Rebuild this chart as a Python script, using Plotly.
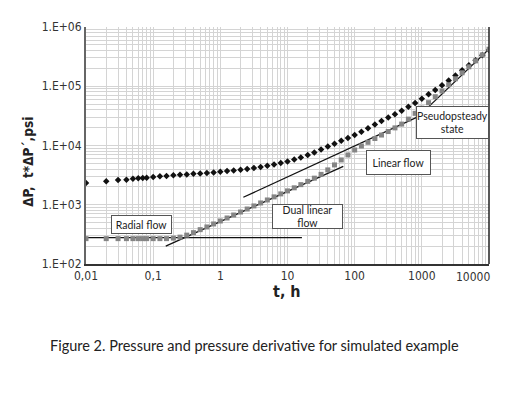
import plotly.graph_objects as go

# time, h
t = [0.01, 0.02, 0.03, 0.04, 0.05, 0.06, 0.07, 0.08,
     0.1, 0.126, 0.158, 0.2, 0.251, 0.316, 0.398, 0.501, 0.631, 0.794,
     1.0, 1.26, 1.58, 2.0, 2.51, 3.16, 3.98, 5.01, 6.31, 7.94,
     10.0, 12.6, 15.8, 20.0, 25.1, 31.6, 39.8, 50.1, 63.1, 79.4,
     100.0, 126.0, 158.0, 200.0, 251.0, 316.0, 398.0, 501.0, 631.0, 794.0,
     1000.0, 1259.0, 1585.0, 1995.0, 2512.0, 3162.0, 3981.0, 5012.0, 6310.0, 7943.0,
     10000.0]

# pressure change, psi (diamonds)
dp = [2325, 2483, 2611, 2652, 2756, 2788, 2821, 2865,
      2933, 3013, 3049, 3132, 3218, 3255, 3345, 3384, 3450, 3518,
      3614, 3699, 3801, 3905, 4028, 4171, 4352, 4559, 4793, 5079,
      5383, 5817, 6287, 6899, 7628, 8566, 9620, 10722, 11995, 13370,
      15015, 16997, 19458, 22542, 25806, 29554, 33707, 38753, 44884, 52407,
      61650, 73100, 86360, 103560, 124700, 152500, 186500, 227200, 275700, 334500,
      410700]

# pressure derivative t*dP', psi (squares)
deriv = [268, 268, 268, 268, 268, 268, 268, 268,
         268, 268, 268, 273.5, 284, 307, 338, 380, 422, 474,
         532, 598, 671, 754, 847, 955, 1072, 1204, 1358, 1525,
         1713, 1931, 2185, 2483, 2810, 3255, 3875, 4701, 5706, 6926,
         8403, 9808, 11320, 13114, 15015, 17194, 19839, 22982, 27890, 34900,
         42700, 52800, 66620, 83070, 105980, 133700, 168650, 212700, 268300, 338300,
         421900]

# straight-line flow regime guides (end points)
radial_t, radial_p = [0.01, 16.4], [279, 279]
dual_t, dual_p = [0.154, 67.7], [201, 4436]
linear_t, linear_p = [2.2, 885], [1337, 30700]
pss_t, pss_p = [885, 10000], [30700, 421900]

# regime labels: (text, log10 t, log10 p, width, height)
labels = [
    ("Radial flow", -1.171, 2.667, 59, 17),
    ("Dual linear<br>flow", 1.305, 2.810, 69, 23),
    ("Linear flow", 2.649, 3.718, 63, 23),
    ("Pseudopsteady<br>state", 3.459, 4.392, 71, 31),
]

x_tickvals = [0.01, 0.1, 1, 10, 100, 1000]
x_ticktext = ["0,01", "0,1", "1", "10", "100", "1000"]
y_tickvals = [100, 1000, 10000, 100000, 1000000]
y_ticktext = ["1.E+02", "1.E+03", "1.E+04", "1.E+05", "1.E+06"]

narrow = "DejaVu Sans Condensed, Liberation Sans Narrow, sans-serif"
tickfont = dict(family=narrow, size=12, color="#333")
boxfont = dict(family="Lato, Open Sans, sans-serif", size=10.5, color="#222")

fig = go.Figure()

for lt, lp in [(radial_t, radial_p), (dual_t, dual_p), (linear_t, linear_p), (pss_t, pss_p)]:
    fig.add_trace(go.Scatter(x=lt, y=lp, mode="lines",
                             line=dict(color="#111", width=1.3), showlegend=False,
                             hoverinfo="skip"))

fig.add_trace(go.Scatter(x=t, y=dp, mode="markers", name="dP",
                         marker=dict(symbol="diamond", size=5, color="#111"),
                         showlegend=False))
fig.add_trace(go.Scatter(x=t, y=deriv, mode="markers", name="t*dP'",
                         marker=dict(symbol="square", size=5, color="#858585"),
                         showlegend=False))

for text, ax, ay, w, h in labels:
    fig.add_annotation(x=ax, y=ay, xref="x", yref="y", text=text, showarrow=False,
                       font=boxfont, bgcolor="white", bordercolor="#555",
                       borderwidth=1, borderpad=0, width=w, height=h,
                       align="center", valign="middle",
                       xanchor="center", yanchor="middle")

fig.add_annotation(x=4, y=0, xref="x", yref="paper", text="10000", showarrow=False,
                   font=tickfont, yanchor="top", xanchor="center", yshift=-4, xshift=-16)

fig.add_annotation(x=-0.144, y=0.431, xref="paper", yref="paper",
                   text="<b>ΔP,  t*ΔP´,psi</b>", textangle=-90, showarrow=False,
                   xanchor="center", yanchor="middle",
                   font=dict(family=narrow, size=13.5, color="#222"))
fig.add_annotation(x=0.499, y=-0.115, xref="paper", yref="paper",
                   text="<b>t, h</b>", showarrow=False,
                   xanchor="center", yanchor="middle",
                   font=dict(family=narrow, size=16, color="#222"))
fig.add_annotation(x=0.417, y=-0.343, xref="paper", yref="paper",
                   text="Figure 2. Pressure and pressure derivative for simulated example",
                   showarrow=False, xanchor="center", yanchor="middle",
                   font=dict(family="Lato, Open Sans, sans-serif", size=14.5, color="#222"))

grid = "#d4d4d4"
fig.update_xaxes(type="log", range=[-2, 4], tickvals=x_tickvals, ticktext=x_ticktext,
                 tickfont=tickfont, showgrid=True, gridcolor=grid, gridwidth=1,
                 minor=dict(showgrid=True, gridcolor=grid, dtick="D1"),
                 showline=True, linecolor="#333", linewidth=1.5, ticks="",
                 zeroline=False)
fig.update_yaxes(type="log", range=[2, 6], tickvals=y_tickvals, ticktext=y_ticktext,
                 tickfont=tickfont, showgrid=True, gridcolor=grid, gridwidth=1,
                 minor=dict(showgrid=True, gridcolor=grid, dtick="D1"),
                 showline=True, linecolor="#666", linewidth=2, mirror=False, ticks="",
                 zeroline=False)

# right border line
fig.add_shape(type="line", xref="paper", yref="paper", x0=1, x1=1, y0=0, y1=1,
              line=dict(color="#222", width=1.5))

# page body adds an 8px offset, so the margins are shifted to compensate
fig.update_layout(width=524, height=396, margin=dict(l=78, r=43, t=17, b=140),
                  plot_bgcolor="white", paper_bgcolor="white")

fig.write_html("out.html")
